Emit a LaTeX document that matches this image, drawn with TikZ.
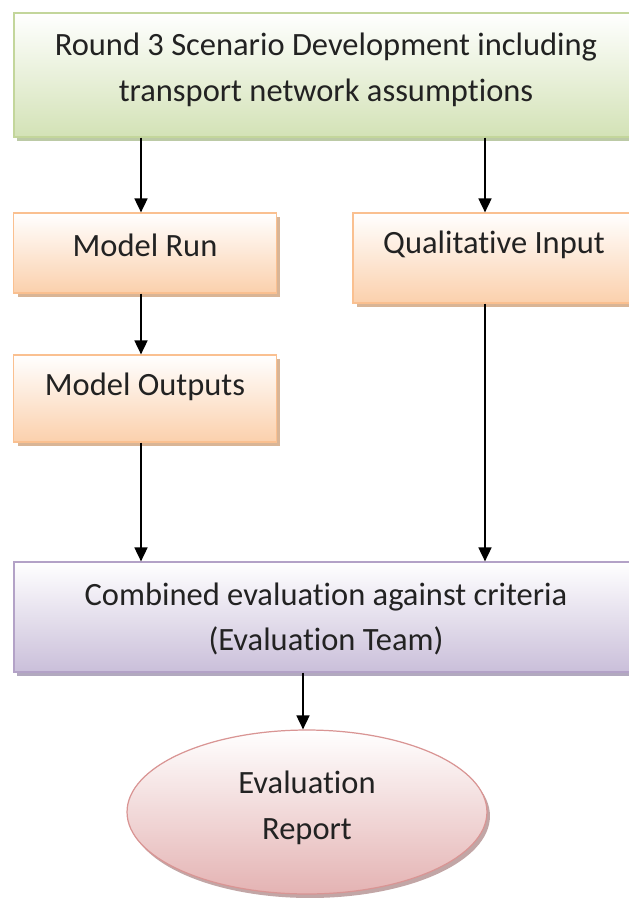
\documentclass[tikz,border=0pt]{standalone}
\usepackage{fontspec}
\setmainfont{Carlito}[Ligatures=NoCommon]
\usetikzlibrary{arrows.meta,shapes.geometric,shadows}
\definecolor{gEdge}{HTML}{C3D69B}
\definecolor{gFill}{HTML}{D3E2B6}
\definecolor{gShad}{HTML}{8FA66A}
\definecolor{oEdge}{HTML}{FAC090}
\definecolor{oFill}{HTML}{FBD0AC}
\definecolor{oShad}{HTML}{C08350}
\definecolor{pEdge}{HTML}{B3A2C7}
\definecolor{pFill}{HTML}{CABFDA}
\definecolor{pShad}{HTML}{7F7095}
\definecolor{rEdge}{HTML}{D99594}
\definecolor{rFill}{HTML}{E4B3B3}
\definecolor{rShad}{HTML}{9A6A6A}
\definecolor{txtc}{HTML}{222222}
\tikzset{
  box/.style={draw, line width=0.7pt, rectangle, inner sep=0pt, top color=white},
  gbox/.style={box, draw=gEdge, bottom color=gFill,
     general shadow={shadow xshift=0.05cm, shadow yshift=-0.08cm, fill=gShad!60}},
  obox/.style={box, draw=oEdge, bottom color=oFill,
     general shadow={shadow xshift=0.08cm, shadow yshift=-0.08cm, fill=oShad!60}},
  pbox/.style={box, draw=pEdge, bottom color=pFill,
     general shadow={shadow xshift=0.05cm, shadow yshift=-0.08cm, fill=pShad!60}},
  rell/.style={ellipse, draw=rEdge, line width=0.7pt, top color=white, bottom color=rFill, inner sep=0pt,
     general shadow={shadow xshift=0.06cm, shadow yshift=-0.08cm, fill=rShad!60}},
  txt/.style={font=\fontsize{18.5}{26}\selectfont, text=txtc, align=center, inner sep=0pt},
  arr/.style={line width=1pt, -{Triangle[width=0.26cm,length=0.28cm]}}
}
\begin{document}
\begin{tikzpicture}[x=0.02cm,y=-0.02cm]
\useasboundingbox (0,0) rectangle (629,900);
\clip (0,0) rectangle (629,900);
% boxes
\node[gbox, minimum width=12.48cm, minimum height=2.48cm] (top) at (326,75) {};
\node[obox, minimum width=5.26cm, minimum height=1.6cm] (mr) at (145,253) {};
\node[obox, minimum width=5.64cm, minimum height=1.8cm] (qi) at (494,258) {};
\node[obox, minimum width=5.26cm, minimum height=1.74cm] (mo) at (145,398.5) {};
\node[pbox, minimum width=12.48cm, minimum height=2.2cm] (ce) at (326,617) {};
\node[rell, minimum width=7.2cm, minimum height=3.28cm] (er) at (307,812) {};
% texts
\node[txt] (topt) at (326,70) {Round 3 Scenario Development including\\transport network assumptions};
\node[txt] (mrt) at (145,245) {Model Run};
\node[txt] (qit) at (494,245) {Qualitative Input};
\node[txt] (mot) at (145,387) {Model Outputs};
\node[txt] (cet) at (326,619) {Combined evaluation against criteria\\(Evaluation Team)};
\node[txt] (ert) at (307,808) {Evaluation\\Report};
% connectors
\draw[arr] ([xshift=-0.08cm]top.south -| mr.north) -- ([xshift=-0.08cm]mr.north);
\draw[arr] ([xshift=-0.18cm]top.south -| qi.north) -- ([xshift=-0.18cm]qi.north);
\draw[arr] ([xshift=-0.08cm]mr.south) -- ([xshift=-0.08cm]mo.north);
\draw[arr] ([xshift=-0.08cm]mo.south) -- ([xshift=-0.08cm]mo.south |- ce.north);
\draw[arr] ([xshift=-0.18cm]qi.south) -- ([xshift=-0.18cm]qi.south |- ce.north);
\draw[arr] ([xshift=-0.08cm]ce.south -| er.north) -- ([xshift=-0.08cm]er.north);
\end{tikzpicture}
\end{document}
